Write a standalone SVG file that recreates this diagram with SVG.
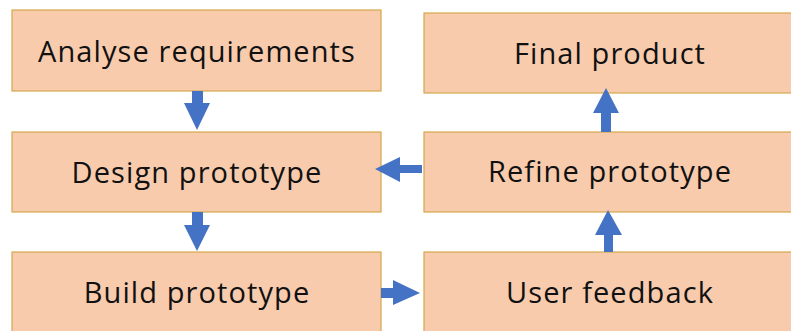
<svg xmlns="http://www.w3.org/2000/svg" width="791" height="331" viewBox="0 0 791 331">
<style>
.box{fill:#F8CBAD;stroke:#D4A84B;stroke-width:1.2}
.lbl{font-family:"Open Sans","Liberation Sans",sans-serif;font-size:29px;letter-spacing:1.1px;fill:#111;text-anchor:middle}
.arr{fill:#4472C4}
</style>
<rect width="791" height="331" fill="#fff"/>
<g id="analyse"><rect class="box" x="12" y="10" width="369" height="81"/><text class="lbl" x="197" y="62">Analyse requirements</text></g>
<g id="design"><rect class="box" x="12" y="132" width="369" height="80"/><text class="lbl" x="197" y="183">Design prototype</text></g>
<g id="build"><rect class="box" x="12" y="252" width="369" height="90"/><text class="lbl" x="197" y="303">Build prototype</text></g>
<g id="final"><rect class="box" x="424" y="13" width="371" height="80"/><text class="lbl" x="610" y="64">Final product</text></g>
<g id="refine"><rect class="box" x="424" y="132" width="371" height="80"/><text class="lbl" x="610" y="182">Refine prototype</text></g>
<g id="feedback"><rect class="box" x="424" y="252" width="371" height="90"/><text class="lbl" x="610" y="303">User feedback</text></g>
<g id="connectors">
<polygon class="arr" points="192,91 203,91 203,103 210,103 197,130 184,103 192,103"/>
<polygon class="arr" points="192,212 203,212 203,225 210,225 197,251 184,225 192,225"/>
<polygon class="arr" points="381,288 393,288 393,280 420,293 393,305 393,298 381,298"/>
<polygon class="arr" points="422,165 400,165 400,157 375,169 400,182 400,173 422,173"/>
<polygon class="arr" points="604,252 613,252 613,235 622,235 608,210 595,235 604,235"/>
<polygon class="arr" points="601,132 611,132 611,113 619,113 606,88 593,113 601,113"/>
</g>
</svg>
